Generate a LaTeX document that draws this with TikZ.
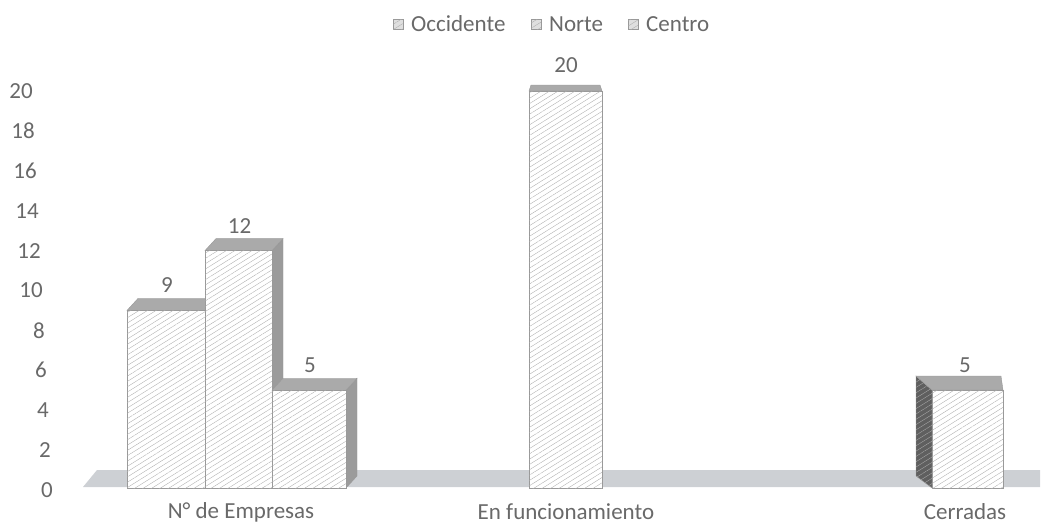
\documentclass[tikz,border=0pt]{standalone}
\usepackage{fontspec}
\setmainfont{Carlito}
\usetikzlibrary{patterns,patterns.meta}
\definecolor{texto}{RGB}{105,105,105}
\definecolor{piso}{RGB}{205,208,212}
\definecolor{techo}{RGB}{170,170,170}
\definecolor{lado}{RGB}{155,155,155}
\definecolor{oscuro}{RGB}{95,95,95}

\begin{document}
\begin{tikzpicture}[x=1pt,y=-1pt,
  etiq/.style={text=texto,font=\fontsize{23}{25}\selectfont,inner sep=0pt},
  rayas/.style={postaction={pattern={Lines[angle=32,distance=4.5pt,line width=0.35pt]},pattern color=gray!65}},
  frente/.style={draw=gray!80,fill=white,rayas},
  techo/.style={draw=gray!80,fill=techo},
  lado/.style={draw=gray!80,fill=lado}]
\useasboundingbox (0,0) rectangle (1045,530);
% eje vertical
\foreach \v in {0,2,...,20}
  \node[etiq,anchor=east] (y\v) at ({53-\v},{490-19.95*\v}) {\v};
% piso
\fill [piso] (83,487) -- (97,470) -- (1040,470) -- (1040,487) -- cycle;
% N de empresas
\foreach \xa/\xb/\v/\n in {127/205/9/occ,205/272/12/nor,272/346/5/cen}{
  \pgfmathsetmacro\t{490-19.95*\v}
  \draw [lado] (\xb,\t) -- ++(11,-12) -- (\xb+11,476) -- (\xb,488) -- cycle;
  \draw [techo] (\xa,\t) -- ++(11,-12) -- (\xb+11,\t-12) -- (\xb,\t) -- cycle;
  \draw [frente] (\xa,\t) rectangle (\xb,488);
  \node[etiq] (v\n) at ({(\xa+\xb)/2+1},\t-25) {\v};
}
% en funcionamiento
\draw [techo] (529,91) -- (531,85) -- (600,85) -- (602,91) -- cycle;
\draw [frente] (529,91) rectangle (602,488);
\node[etiq] (vfun) at (566,65) {20};
% cerradas
\draw [lado,fill=oscuro,rayas] (932,390) -- (916,376) -- (916,476) -- (932,488) -- cycle;
\draw [techo] (932,390) -- (916,376) -- (1001,376) -- (1003,390) -- cycle;
\draw [frente] (932,390) rectangle (1003,488);
\node[etiq] (vcer) at (965,365) {5};
% categorias
\node[etiq] (cemp) at (241,512) {N° de Empresas};
\node[etiq] (cfun) at (566,512) {En funcionamiento};
\node[etiq] (ccer) at (965,512) {Cerradas};
% leyenda
\foreach \x/\nom in {393/Occidente,531/Norte,628/Centro}{
  \draw [draw=gray!80,fill=gray!25,rayas] (\x,19) rectangle (\x+10,29);
  \node[etiq,anchor=west] (l\nom) at (\x+18,24) {\nom};
}

\end{tikzpicture}
\end{document}
